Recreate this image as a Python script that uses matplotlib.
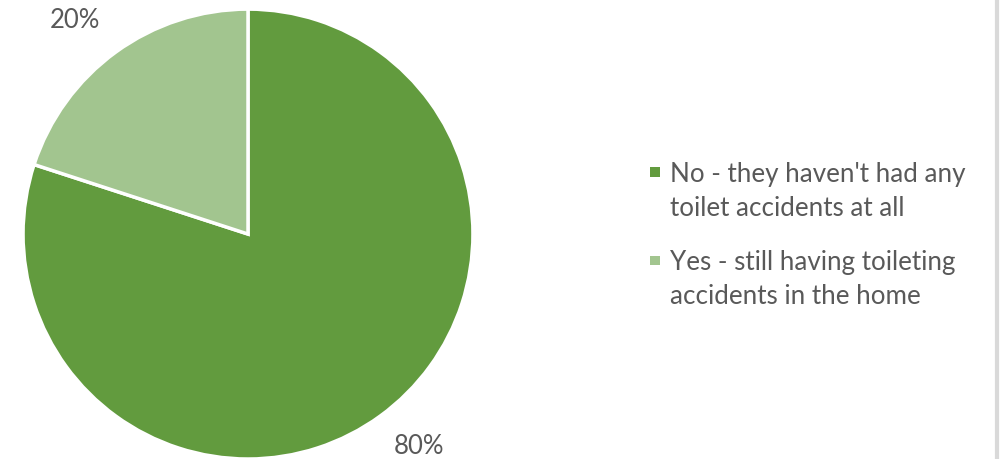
import matplotlib.pyplot as plt
from matplotlib.lines import Line2D
from matplotlib.patches import Rectangle
from matplotlib.legend_handler import HandlerBase

labels = ["No - they haven't had any\ntoilet accidents at all",
          "Yes - still having toileting\naccidents in the home"]
values = [80, 20]
colors = ['#629B3E', '#A2C58F']
# label positions in pie radius units
label_pos = [(0.76, -0.94), (-0.77, 0.955)]

plt.rcParams['font.family'] = ['Lato', 'DejaVu Sans']


class TopSquare(HandlerBase):
    # square marker next to the first line of a two-line label (Excel style)
    def create_artists(self, legend, orig_handle, xdescent, ydescent,
                       width, height, fontsize, trans):
        s = 0.36 * fontsize
        yc = 1.09 * fontsize
        r = Rectangle((-xdescent, yc - s / 2), s, s,
                      facecolor=orig_handle.get_facecolor(), edgecolor='none',
                      transform=trans)
        return [r]


fig = plt.figure(figsize=(10, 4.6), dpi=100)
ax = fig.add_axes([0.023, 0.0, 0.45, 0.978])

wedges, texts, autotexts = ax.pie(
    values, colors=colors, startangle=90, counterclock=False,
    autopct=lambda p: f'{p:.0f}%', pctdistance=1.2,
    wedgeprops=dict(edgecolor='white', linewidth=2.5),
    textprops=dict(color='#595959', fontsize=18.5))
for t, pos in zip(autotexts, label_pos):
    t.set_position(pos)
ax.set_xlim(-1, 1)
ax.set_ylim(-1, 1)
ax.set_aspect('equal')

handles = [Rectangle((0, 0), 1, 1, facecolor=c) for c in colors]
leg = fig.legend(handles, labels, loc='center left',
                 bbox_to_anchor=(0.64, 0.488),
                 frameon=False, fontsize=18.7, labelcolor='#595959',
                 handlelength=0.36, handletextpad=0.4, labelspacing=1.14,
                 borderaxespad=0, handler_map={Rectangle: TopSquare()})
for t in leg.get_texts():
    t.set_linespacing(1.45)

# light border on the right edge
fig.add_artist(Line2D([0.997, 0.997], [0, 1], transform=fig.transFigure,
                      color='#D9D9D9', linewidth=3))

fig.savefig('out.png', dpi=100)
